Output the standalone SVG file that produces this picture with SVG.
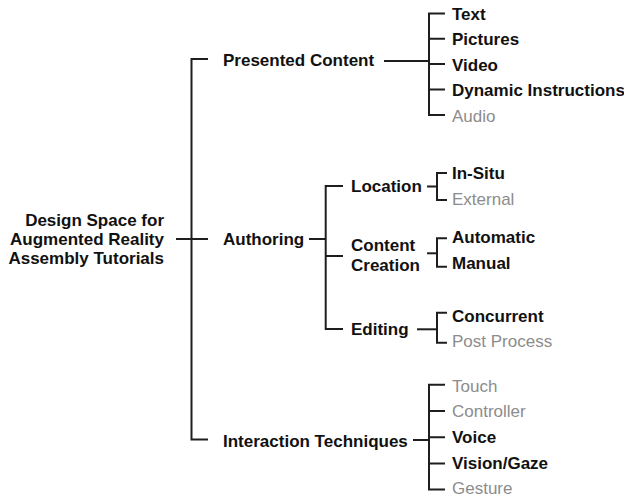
<svg xmlns="http://www.w3.org/2000/svg" width="624" height="497" viewBox="0 0 624 497">
<style>
  text { font-family: "Liberation Sans", Arial, Helvetica, sans-serif; font-size: 17px; }
  .b { font-weight: bold; fill: #111; }
  .g { fill: #8c8c8c; }
  .r { text-anchor: end; }
  #connectors path { fill: none; stroke: #1e1e1e; stroke-width: 2; stroke-linejoin: miter; }
</style>
<rect width="624" height="497" fill="#ffffff"/>
<g id="connectors">
  <path d="M176,239 H208"/>
  <path d="M208,59 H191.5 V439.5 H208"/>
  <path d="M384,61 H429"/>
  <path d="M445,13.5 H429 V115 H445 M429,38.7 H445 M429,64 H445 M429,89.4 H445"/>
  <path d="M309,239 H325.7"/>
  <path d="M343,186 H325.7 V329 H343 M325.7,256 H343"/>
  <path d="M427,186.5 H437"/>
  <path d="M447,173 H437 V200 H447"/>
  <path d="M427,253.3 H437"/>
  <path d="M447,238.3 H437 V266.7 H447"/>
  <path d="M417,329.3 H437"/>
  <path d="M447,312.7 H437 V342.7 H447"/>
  <path d="M413,440 H429"/>
  <path d="M445,384.7 H429 V489.5 H445 M429,411 H445 M429,437.3 H445 M429,463.5 H445"/>
</g>
<g id="root">
  <text class="b r" x="164" y="225.5">Design Space for</text>
  <text class="b r" x="164" y="244.5">Augmented Reality</text>
  <text class="b r" x="164" y="263.5">Assembly Tutorials</text>
</g>
<g id="presented-content"><text class="b" x="223" y="66">Presented Content</text></g>
<g id="text"><text class="b" x="452" y="20">Text</text></g>
<g id="pictures"><text class="b" x="452" y="45.2">Pictures</text></g>
<g id="video"><text class="b" x="452" y="70.5">Video</text></g>
<g id="dynamic-instructions"><text class="b" x="452" y="96">Dynamic Instructions</text></g>
<g id="audio"><text class="g" x="452" y="121.5">Audio</text></g>
<g id="authoring"><text class="b" x="223" y="245">Authoring</text></g>
<g id="location"><text class="b" x="351" y="192">Location</text></g>
<g id="in-situ"><text class="b" x="452" y="179.3">In-Situ</text></g>
<g id="external"><text class="g" x="452" y="205">External</text></g>
<g id="content-creation">
  <text class="b" x="351" y="250.7">Content</text>
  <text class="b" x="351" y="270.7">Creation</text>
</g>
<g id="automatic"><text class="b" x="452" y="243.3">Automatic</text></g>
<g id="manual"><text class="b" x="452" y="269">Manual</text></g>
<g id="editing"><text class="b" x="351" y="335">Editing</text></g>
<g id="concurrent"><text class="b" x="452" y="321.7">Concurrent</text></g>
<g id="post-process"><text class="g" x="452" y="346.7">Post Process</text></g>
<g id="interaction-techniques"><text class="b" x="223" y="446.7">Interaction Techniques</text></g>
<g id="touch"><text class="g" x="452" y="391.5">Touch</text></g>
<g id="controller"><text class="g" x="452" y="417.3">Controller</text></g>
<g id="voice"><text class="b" x="452" y="442.8">Voice</text></g>
<g id="vision-gaze"><text class="b" x="452" y="468.5">Vision/Gaze</text></g>
<g id="gesture"><text class="g" x="452" y="493.5">Gesture</text></g>
</svg>
